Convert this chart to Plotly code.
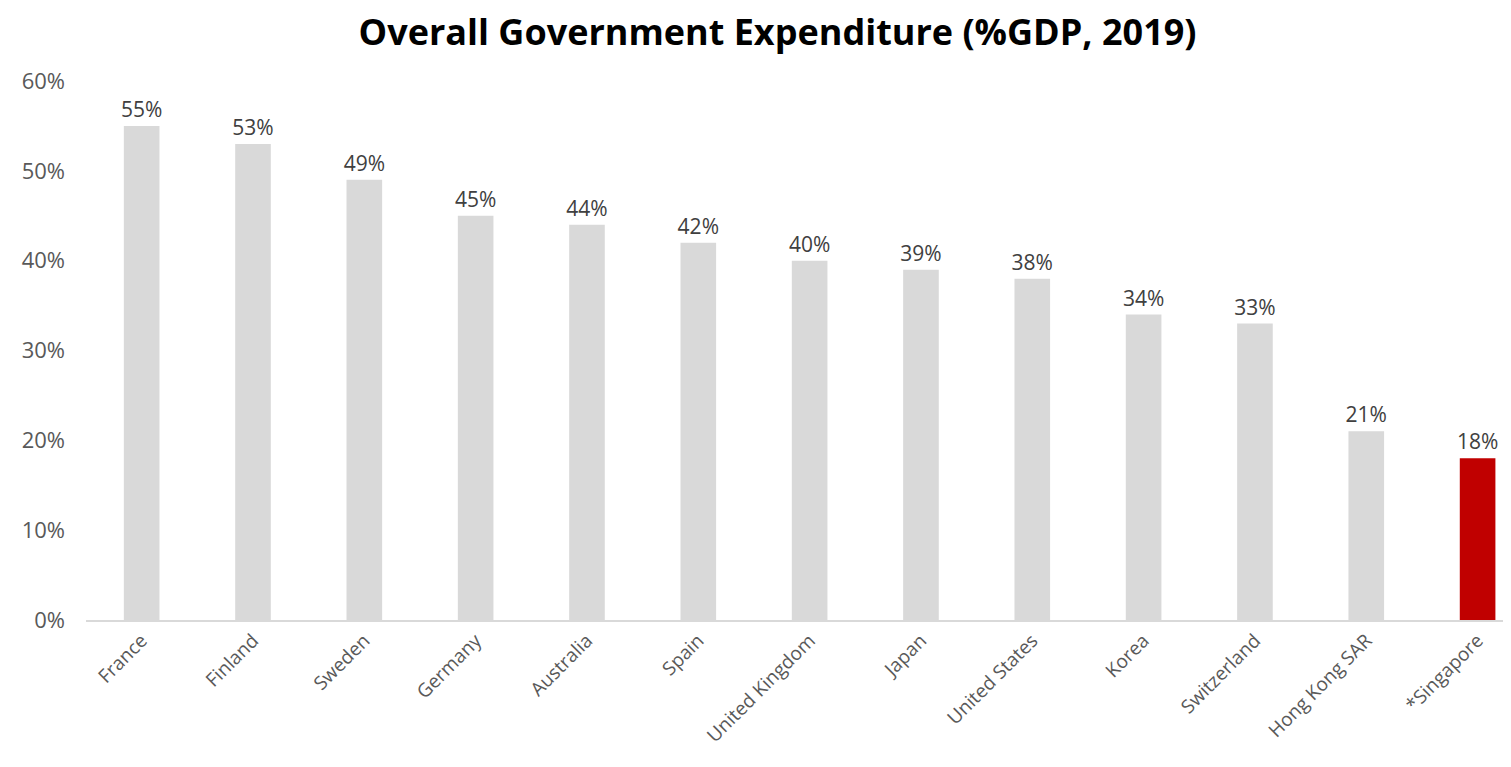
import plotly.graph_objects as go

countries = ["France", "Finland", "Sweden", "Germany", "Australia", "Spain",
             "United Kingdom", "Japan", "United States", "Korea", "Switzerland",
             "Hong Kong SAR", "*Singapore"]
values = [55, 53, 49, 45, 44, 42, 40, 39, 38, 34, 33, 21, 18]
highlight = "*Singapore"

colors = ["#c00000" if c == highlight else "#d9d9d9" for c in countries]
labels = [f"{v}%" for v in values]

fig = go.Figure(go.Bar(
    x=countries, y=values, marker_color=colors, marker_line_width=0,
    text=labels, textposition="outside", cliponaxis=False,
    constraintext="none",
    textfont=dict(family="Open Sans", size=21, color="#404040"),
))

fig.update_layout(
    width=1503, height=759,
    margin=dict(l=78, r=0, t=73, b=147, autoexpand=False),
    paper_bgcolor="white", plot_bgcolor="white",
    bargap=0.68,
    showlegend=False,
    title=dict(text="<b>Overall Government Expenditure (%GDP, 2019)</b>",
               x=0.512, xanchor="center", y=0.968, yanchor="middle",
               font=dict(family="Open Sans", size=36, color="#000000")),
    xaxis=dict(range=[-0.5, 12.3], tickangle=-45, showgrid=False,
               showline=True, linecolor="#d9d9d9", linewidth=2,
               ticks="", automargin=False,
               tickfont=dict(family="Open Sans", size=19, color="#595959")),
    yaxis=dict(range=[0, 60], dtick=10, ticksuffix="%", showgrid=False,
               zeroline=False, showline=False, ticks="", automargin=False,
               ticklabelstandoff=20,
               tickfont=dict(family="Open Sans", size=22, color="#595959")),
)

fig.write_html("out.html")
